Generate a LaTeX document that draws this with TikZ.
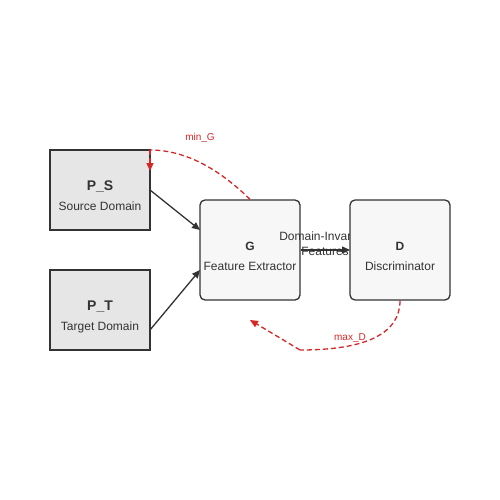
\documentclass[tikz,border=0pt]{standalone}
\usepackage{fontspec}
\setmainfont{Liberation Sans}
\usetikzlibrary{arrows.meta}
\definecolor{strokec}{HTML}{333333}
\definecolor{inkc}{HTML}{333333}
\definecolor{pfill}{HTML}{E6E6E6}
\definecolor{gfill}{HTML}{F7F7F7}
\definecolor{advred}{HTML}{D62728}
\tikzset{
  pbox/.style={draw=strokec, line width=1.3pt, fill=pfill, minimum width=100pt, minimum height=80pt, inner sep=0pt},
  rbox/.style={draw=strokec, line width=1.3pt, fill=gfill, rounded corners=5pt, minimum width=100pt, minimum height=100pt, inner sep=0pt},
  title/.style={anchor=base, text=inkc, inner sep=0pt, font=\bfseries\fontsize{14}{14}\selectfont},
  stitle/.style={anchor=base, text=inkc, inner sep=0pt, font=\bfseries\fontsize{12}{12}\selectfont},
  sub/.style={anchor=base, text=inkc, inner sep=0pt, font=\fontsize{12}{12}\selectfont},
  flow/.style={draw=strokec, line width=1.3pt, -{Triangle[length=8pt,width=7pt]}},
  adv/.style={draw=advred, line width=1.3pt, dash pattern=on 5pt off 3pt},
  advtip/.style={-{Triangle[length=8pt,width=7pt]}},
  advlabel/.style={anchor=base, text=advred, inner sep=0pt, font=\fontsize{10}{10}\selectfont},
}
\begin{document}
\begin{tikzpicture}[x=1pt,y=-1pt]
\useasboundingbox (0,0) rectangle (500,500);
% source and target domains
\node[pbox] (PS) at (100,190) {};
\node[title] (PSt) at (100,190) {P\_S};
\node[sub] (PSs) at (100,210) {Source Domain};
\node[pbox] (PT) at (100,310) {};
\node[title] (PTt) at (100,310) {P\_T};
\node[sub] (PTs) at (100,330) {Target Domain};
% feature extractor
\node[rbox] (G) at (250,250) {};
\node[stitle] (Gt) at (250,250) {G};
\node[sub] (Gs) at (250,270) {Feature Extractor};
% connectors into G
\coordinate (PSo) at (150,190);
\coordinate (PTo) at (150,330);
\coordinate (Gin1) at (200,230);
\coordinate (Gin2) at (200,270);
\draw[flow] (PSo) -- (Gin1);
\draw[flow] (PTo) -- (Gin2);
% G to D
\coordinate (Dw) at (350,250);
\draw[flow] (G.east) -- (Dw);
\node[sub] (fl1) at (325,240) {Domain-Invariant};
\node[sub] (fl2) at (325,255) {Features};
% discriminator
\node[rbox] (D) at (400,250) {};
\node[stitle] (Dt) at (400,250) {D};
\node[sub] (Ds) at (400,270) {Discriminator};
% adversarial loops
\coordinate (corner) at (150,150);
\coordinate (PSin) at (150,171);
\draw[adv] (G.north) .. controls (216.7,166.7) and (183.3,150) .. (corner);
\draw[adv,advtip] (corner) -- (PSin);
\node[advlabel] (minG) at (200,140) {min\_G};
\coordinate (bottom) at (300,350);
\coordinate (Gback) at (250,320);
\draw[adv] (D.south) .. controls (400,333.3) and (366.7,350) .. (bottom);
\draw[adv,advtip] (bottom) -- (Gback);
\node[advlabel] (maxD) at (350,340) {max\_D};
\end{tikzpicture}
\end{document}
